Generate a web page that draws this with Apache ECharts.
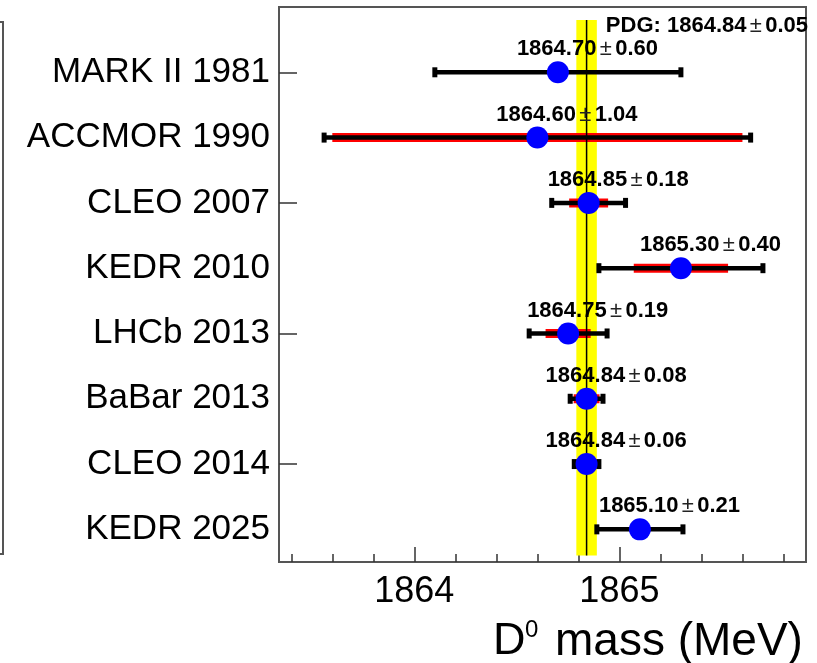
<!DOCTYPE html>
<html>
<head>
<meta charset="utf-8">
<script src="https://cdn.jsdelivr.net/npm/echarts@6/dist/echarts.min.js"></script>
<style>
  html, body { margin: 0; padding: 0; background: #fff; }
  #main { width: 817px; height: 663px; }
</style>
</head>
<body>
<div id="main"></div>
<script>
var myChart = echarts.init(document.getElementById('main'));

// measurements, top to bottom
var experiments = ['MARK II 1981', 'ACCMOR 1990', 'CLEO 2007', 'KEDR 2010', 'LHCb 2013', 'BaBar 2013', 'CLEO 2014', 'KEDR 2025'];
var rowPos = [7, 6, 5, 4, 3, 2, 1, 0];
var massValues = [1864.70, 1864.60, 1864.85, 1865.30, 1864.75, 1864.84, 1864.84, 1865.10];
var totalErrors = [0.60, 1.04, 0.18, 0.40, 0.19, 0.08, 0.06, 0.21];
var systErrors = [null, 1.00, 0.095, 0.23, 0.11, 0.063, 0.057, null];

// PDG average
var pdgMass = 1864.84;
var pdgErr = 0.05;
var bandRange = [-0.4, 7.8];

// axis ticks
var xMajorTicks = [1864, 1865];
var xMinorTicks = [1863.4, 1863.6, 1863.8, 1864.2, 1864.4, 1864.6, 1864.8, 1865.2, 1865.4, 1865.6, 1865.8];
var yTicks = [1, 3, 5, 7];

var FONT = "'Liberation Sans', Arial, Helvetica, sans-serif";
var frameColor = '#555';

var rows = [];
var points = [];
for (var i = 0; i < experiments.length; i++) {
    rows.push([rowPos[i], massValues[i], totalErrors[i], systErrors[i] || 0]);
    points.push([massValues[i], rowPos[i]]);
}

function nameAt(v) {
    var k = rowPos.indexOf(v);
    return k < 0 ? '' : experiments[k];
}

function pmText(head, val, err) {
    return '{b|' + head + val.toFixed(2) + '} {pm|±} {b|' + err.toFixed(2) + '}';
}
var pmRich = {
    b: { fontFamily: FONT, fontWeight: 'bold', fontSize: 22, fill: '#000' },
    pm: { fontFamily: FONT, fontSize: 22, fill: '#222' }
};

function renderBand(params, api) {
    var c = api.value(0), e = api.value(1);
    var p1 = api.coord([c - e, api.value(3)]);
    var p2 = api.coord([c + e, api.value(2)]);
    return {
        type: 'rect',
        shape: { x: p1[0], y: p1[1], width: p2[0] - p1[0], height: p2[1] - p1[1] },
        style: { fill: '#ffff00' }
    };
}

function renderPdgLine(params, api) {
    var c = api.value(0), e = api.value(1);
    var top = api.coord([c, api.value(3)]);
    var bot = api.coord([c, api.value(2)]);
    var right = api.coord([c + e, api.value(3)]);
    return {
        type: 'group',
        children: [
            { type: 'line', shape: { x1: top[0], y1: top[1], x2: bot[0], y2: bot[1] }, style: { stroke: '#000', lineWidth: 1.5 } },
            {
                type: 'text',
                x: right[0] + 9, y: top[1] + 5.5,
                style: { text: pmText('PDG: ', c, e), align: 'left', verticalAlign: 'middle', rich: pmRich }
            }
        ]
    };
}

function renderErr(params, api) {
    var y = api.value(0), c = api.value(1), tot = api.value(2), sys = api.value(3);
    var lo = api.coord([c - tot, y]);
    var hi = api.coord([c + tot, y]);
    var children = [];
    if (sys > 0) {
        var slo = api.coord([c - sys, y]);
        var shi = api.coord([c + sys, y]);
        children.push({ type: 'line', shape: { x1: slo[0], y1: slo[1], x2: shi[0], y2: shi[1] }, style: { stroke: '#ff0000', lineWidth: 9 } });
    }
    children.push({ type: 'line', shape: { x1: lo[0], y1: lo[1], x2: hi[0], y2: hi[1] }, style: { stroke: '#000', lineWidth: 4.5 } });
    children.push({ type: 'rect', shape: { x: lo[0] - 2.5, y: lo[1] - 5, width: 5, height: 10 }, style: { fill: '#000' } });
    children.push({ type: 'rect', shape: { x: hi[0] - 2.5, y: hi[1] - 5, width: 5, height: 10 }, style: { fill: '#000' } });
    return { type: 'group', children: children };
}

function renderLabel(params, api) {
    var y = api.value(0), c = api.value(1), tot = api.value(2);
    var p = api.coord([c, y]);
    return {
        type: 'text',
        x: p[0] - 41, y: p[1] - 23,
        style: { text: pmText('', c, tot), align: 'left', verticalAlign: 'middle', rich: pmRich }
    };
}

var pdgRow = [[pdgMass, pdgErr, bandRange[0], bandRange[1]]];

var option = {
    animation: false,
    backgroundColor: '#fff',
    grid: {
        left: 279, top: 7, right: 11, bottom: 101,
        show: true, borderColor: frameColor, borderWidth: 2, backgroundColor: 'transparent'
    },
    xAxis: [
        {
            type: 'value', min: 1863.34, max: 1865.91,
            splitLine: { show: false },
            axisLine: { show: true, onZero: false, lineStyle: { color: frameColor, width: 2 } },
            axisTick: { show: true, inside: true, length: 15, customValues: xMajorTicks, lineStyle: { color: '#333', width: 1.5 } },
            axisLabel: {
                customValues: xMajorTicks,
                formatter: function (v) { return String(v); },
                fontFamily: FONT, fontSize: 36, color: '#000', margin: 12
            }
        },
        {
            type: 'value', min: 1863.34, max: 1865.91, position: 'bottom',
            splitLine: { show: false },
            axisLine: { show: false, onZero: false },
            axisTick: { show: true, inside: true, length: 8, customValues: xMinorTicks, lineStyle: { color: '#333', width: 1.5 } },
            axisLabel: { show: false }
        }
    ],
    yAxis: {
        type: 'value', min: -0.5, max: 8,
        splitLine: { show: false },
        axisLine: { show: true, onZero: false, lineStyle: { color: frameColor, width: 2 } },
        axisTick: { show: true, inside: true, length: 18, customValues: yTicks, lineStyle: { color: '#333', width: 1.5 } },
        axisLabel: {
            customValues: rowPos,
            formatter: function (v) { return nameAt(v); },
            fontFamily: FONT, fontSize: 35, color: '#000', margin: 9
        }
    },
    graphic: [
        // frame of the neighbouring pad, cut by the picture edge
        { type: 'rect', shape: { x: -20, y: 22, width: 23, height: 532 }, style: { fill: 'none', stroke: frameColor, lineWidth: 2 } },
        { type: 'text', x: 493, y: 642, style: { text: 'D', fontFamily: FONT, fontSize: 45, fill: '#000', align: 'left', verticalAlign: 'middle' } },
        { type: 'text', x: 525, y: 630.5, style: { text: '0', fontFamily: FONT, fontSize: 24, fill: '#000', align: 'left', verticalAlign: 'middle' } },
        { type: 'text', x: 555, y: 642, style: { text: 'mass (MeV)', fontFamily: FONT, fontSize: 46, fill: '#000', align: 'left', verticalAlign: 'middle' } }
    ],
    series: [
        { type: 'custom', name: 'band', z: 1, renderItem: renderBand, data: pdgRow, encode: { x: 0, y: 2 }, silent: true },
        { type: 'custom', name: 'errors', z: 2, renderItem: renderErr, data: rows, encode: { x: 1, y: 0 } },
        { type: 'custom', name: 'pdg', z: 3, renderItem: renderPdgLine, data: pdgRow, encode: { x: 0, y: 2 } },
        { type: 'scatter', name: 'mass', z: 4, data: points, symbol: 'circle', symbolSize: 22, itemStyle: { color: '#0000ff', opacity: 1 } },
        { type: 'custom', name: 'labels', z: 5, renderItem: renderLabel, data: rows, encode: { x: 1, y: 0 } }
    ]
};
myChart.setOption(option);
</script>
</body>
</html>
